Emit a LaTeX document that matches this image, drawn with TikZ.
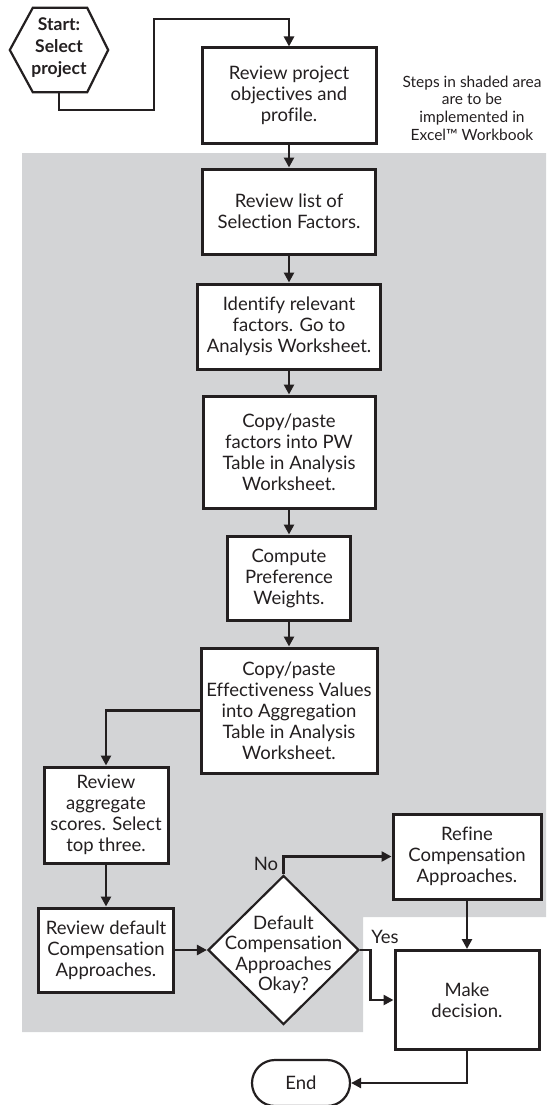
\documentclass[tikz,border=0pt]{standalone}
\usepackage{fontspec}
\setmainfont{Lato}[Ligatures={NoCommon}]
\usetikzlibrary{arrows.meta,shapes.geometric,shapes.misc,calc}
\definecolor{areagrey}{RGB}{211,212,214}
\definecolor{ink}{RGB}{35,31,32}
\tikzset{
  boxnode/.style={draw=ink,line width=3pt,fill=white,inner sep=0pt,align=center,text=ink,
    font=\fontsize{18.5}{21}\selectfont},
  arr/.style={draw=ink,line width=2.8pt,-{Triangle[length=10pt,width=10pt]}},
  lbl/.style={text=ink,font=\fontsize{18.5}{21}\selectfont,inner sep=0pt},
}
\begin{document}
\begin{tikzpicture}[x=1pt,y=-1pt]
\useasboundingbox (0,0) rectangle (546,1105);
% shaded area
\fill[areagrey] (22,153) -- (546,153) -- (546,917) -- (363,917) -- (363,1032) -- (22,1032) -- cycle;

% start hexagon
\node[inner sep=0pt,minimum width=98pt,minimum height=84pt] (start) at (59,50) {};
\draw[ink,line width=2.2pt,fill=white,line join=miter]
  (start.west) -- ($(start.north west)+(23,0)$) -- ($(start.north east)+(-21,0)$) -- (start.east)
  -- ($(start.south east)+(-21,0)$) -- ($(start.south west)+(23,0)$) -- cycle;
\node[align=center,text=ink,font=\fontsize{17.5}{22}\selectfont\bfseries,inner sep=0pt] (starttxt) at (59,48) {Start:\\Select\\project};

% boxes
\node[boxnode,minimum width=174pt,minimum height=95pt] (b1) at (289,95.5) {Review project\\objectives and\\profile.};
\node[boxnode,minimum width=173pt,minimum height=85pt] (b2) at (289,211.5) {Review list of\\Selection Factors.};
\node[boxnode,minimum width=183pt,minimum height=85pt] (b3) at (289,326.5) {Identify relevant\\factors. Go to\\Analysis Worksheet.};
\node[boxnode,minimum width=172pt,minimum height=112pt] (b4) at (289,452) {Copy/paste\\factors into PW\\Table in Analysis\\Worksheet.};
\node[boxnode,minimum width=123pt,minimum height=84pt] (b5) at (289,578) {Compute\\Preference\\Weights.};
\node[boxnode,minimum width=176pt,minimum height=125pt] (b6) at (289,710.5) {Copy/paste\\Effectiveness Values\\into Aggregation\\Table in Analysis\\Worksheet.};
\node[boxnode,minimum width=124pt,minimum height=96pt] (b7) at (106,815) {Review\\aggregate\\scores. Select\\top three.};
\node[boxnode,minimum width=135pt,minimum height=84pt] (b8) at (106,950) {Review default\\Compensation\\Approaches.};
\node[boxnode,minimum width=148pt,minimum height=85pt] (ref) at (467,856.5) {Refine\\Compensation\\Approaches.};
\node[boxnode,minimum width=144pt,minimum height=99pt] (make) at (467,1000) {Make\\decision.};

% decision diamond
\node[draw=ink,line width=2.2pt,fill=white,diamond,minimum width=151pt,minimum height=149pt,inner sep=0pt] (dec) at (283.5,950) {};
\node[align=center,text=ink,font=\fontsize{18.5}{20.5}\selectfont,inner sep=0pt] (dectxt) at (283.5,955) {Default\\Compensation\\Approaches\\Okay?};

% end terminal
\node[draw=ink,line width=2.2pt,fill=white,rounded rectangle,minimum width=98pt,minimum height=46pt,inner sep=0pt,text=ink,font=\fontsize{18.5}{21}\selectfont] (end) at (301,1083) {End};

% note
\node[align=center,text=ink,font=\fontsize{15.5}{17.7}\selectfont,inner sep=0pt] (note) at (472,108) {Steps in shaded area\\are to be\\implemented in\\Excel™ Workbook};

% connectors
\draw[arr] (start.south) |- (154,110) -- (154,19) -| (b1.north);
\draw[arr] (b1.south) -- (b2.north);
\draw[arr] (b2.south) -- (b3.north);
\draw[arr] (b3.south) -- (b4.north);
\draw[arr] (b4.south) -- (b5.north);
\draw[arr] (b5.south) -- (b6.north);
\draw[arr] (b6.west) -| (b7.north);
\draw[arr] (b7.south) -- (b8.north);
\draw[arr] (b8.east) -- (dec.west);
\draw[arr] (dec.north) |- (ref.west);
\draw[arr] (dec.east) -- ++(10,0) |- (make.west);
\draw[arr] (ref.south) -- (make.north);
\draw[arr] (make.south) |- (end.east);

% labels
\node[lbl] (no) at (266,864) {No};
\node[lbl] (yes) at (385,937) {Yes};
\end{tikzpicture}
\end{document}
